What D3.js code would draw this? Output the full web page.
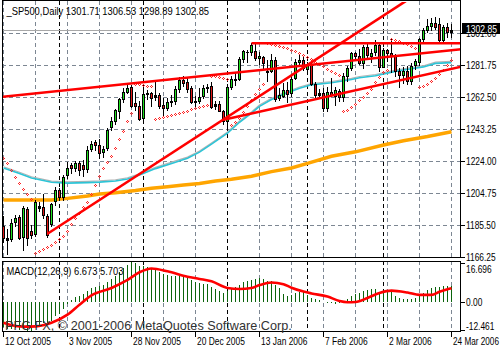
<!DOCTYPE html>
<html><head><meta charset="utf-8">
<script src="https://cdn.jsdelivr.net/npm/d3@7/dist/d3.min.js"></script>
<style>
html,body{margin:0;padding:0;background:#fff;}
svg{display:block;}
text{font-family:"Liberation Sans","Arial",sans-serif;}
</style></head><body>
<svg id="c" width="500" height="350"></svg>
<script>
// ---------------- DATA ----------------
const symbolLabel = "_SP500,Daily";
const lastQuote = ["1301.71","1306.53","1298.89","1302.85"];
const lastPrice = 1302.85;
const dates = [
"2005-10-12","2005-10-13","2005-10-14","2005-10-17","2005-10-18","2005-10-19","2005-10-20","2005-10-21","2005-10-24","2005-10-25","2005-10-26","2005-10-27","2005-10-28","2005-10-31",
"2005-11-01","2005-11-02","2005-11-03","2005-11-04","2005-11-07","2005-11-08","2005-11-09","2005-11-10","2005-11-11","2005-11-14","2005-11-15","2005-11-16","2005-11-17","2005-11-18","2005-11-21","2005-11-22","2005-11-23","2005-11-25","2005-11-28","2005-11-29","2005-11-30",
"2005-12-01","2005-12-02","2005-12-05","2005-12-06","2005-12-07","2005-12-08","2005-12-09","2005-12-12","2005-12-13","2005-12-14","2005-12-15","2005-12-16","2005-12-19","2005-12-20","2005-12-21","2005-12-22","2005-12-23","2005-12-27","2005-12-28","2005-12-29","2005-12-30",
"2006-01-03","2006-01-04","2006-01-05","2006-01-06","2006-01-09","2006-01-10","2006-01-11","2006-01-12","2006-01-13","2006-01-17","2006-01-18","2006-01-19","2006-01-20","2006-01-23","2006-01-24","2006-01-25","2006-01-26","2006-01-27","2006-01-30","2006-01-31",
"2006-02-01","2006-02-02","2006-02-03","2006-02-06","2006-02-07","2006-02-08","2006-02-09","2006-02-10","2006-02-13","2006-02-14","2006-02-15","2006-02-16","2006-02-17","2006-02-21","2006-02-22","2006-02-23","2006-02-24","2006-02-27","2006-02-28",
"2006-03-01","2006-03-02","2006-03-03","2006-03-06","2006-03-07","2006-03-08","2006-03-09","2006-03-10","2006-03-13","2006-03-14","2006-03-15","2006-03-16","2006-03-17","2006-03-20","2006-03-21","2006-03-22","2006-03-23","2006-03-24"];

const open = [1185.0,1177.7,1177.5,1187.5,1190.5,1178.5,1195.5,1182.0,1180.0,1196.2,
1196.5,1191.0,1186.0,1200.0,1207.0,1202.5,1216.0,1221.5,1220.0,1222.8,
1222.0,1219.5,1231.5,1235.5,1234.0,1229.5,1232.0,1244.5,1248.5,1254.5,
1261.5,1265.8,1268.5,1259.0,1257.5,1250.0,1264.5,1265.0,1262.5,1264.0,
1258.0,1256.0,1259.5,1260.5,1267.5,1273.0,1271.5,1268.0,1260.5,1260.0,
1263.0,1268.2,1269.5,1257.0,1258.5,1254.0,1248.5,1268.8,1273.0,1273.5,
1285.5,1290.0,1289.7,1290.5,1286.0,1287.0,1278.5,1278.5,1285.0,1262.0,
1263.5,1267.0,1265.0,1274.0,1283.7,1285.2,1279.5,1282.5,1270.8,1264.0,
1265.0,1256.0,1266.0,1263.5,1266.5,1262.5,1275.5,1280.0,1289.4,1287.5,
1283.0,1292.5,1287.5,1289.5,1294.0,1281.0,1291.0,1289.0,1287.5,1278.3,
1275.9,1278.5,1272.2,1282.0,1283.8,1297.5,1303.0,1305.3,1307.3,1306.7,
1297.2,1305.0,1301.71];
const high = [1191.0,1183.0,1189.0,1192.0,1191.5,1197.0,1196.5,1185.5,1200.5,1199.5,
1204.5,1192.5,1199.0,1208.5,1208.0,1216.0,1223.5,1223.0,1224.0,1224.0,
1225.0,1233.0,1236.0,1237.0,1237.5,1233.0,1244.0,1250.5,1255.5,1262.0,
1268.0,1270.0,1270.0,1266.0,1260.0,1268.5,1267.0,1266.0,1272.0,1265.0,
1262.0,1262.0,1264.0,1269.5,1275.0,1275.5,1274.0,1269.5,1263.0,1268.0,
1270.0,1270.5,1271.5,1260.5,1260.0,1255.0,1270.5,1275.5,1277.0,1286.5,
1291.0,1291.0,1295.0,1294.5,1290.0,1287.5,1284.8,1288.4,1286.5,1268.0,
1271.0,1271.5,1276.0,1285.5,1288.7,1287.5,1284.0,1284.0,1272.0,1267.5,
1268.0,1268.5,1274.0,1268.5,1267.5,1277.0,1281.5,1290.0,1290.0,1291.5,
1294.0,1295.0,1291.5,1297.0,1295.0,1292.0,1291.5,1297.5,1288.5,1280.0,
1280.5,1281.5,1283.0,1285.5,1298.0,1304.0,1309.5,1310.5,1310.8,1310.0,
1306.0,1307.0,1306.53];
const low = [1175.5,1168.5,1176.0,1185.0,1177.5,1170.6,1173.5,1178.0,1179.0,1194.0,
1190.0,1178.5,1185.0,1198.0,1201.0,1201.0,1214.0,1217.0,1218.0,1216.0,
1215.0,1217.5,1230.0,1231.0,1226.0,1226.5,1231.0,1243.0,1246.5,1250.0,
1259.5,1265.0,1256.5,1255.0,1249.0,1249.5,1261.5,1257.0,1261.0,1256.0,
1251.0,1255.0,1257.5,1258.5,1266.0,1269.5,1266.0,1259.0,1257.0,1259.0,
1262.0,1265.5,1256.0,1255.5,1254.0,1246.5,1245.5,1267.5,1270.0,1273.0,
1284.0,1284.0,1288.0,1285.0,1282.8,1280.0,1272.4,1277.5,1260.5,1261.0,
1262.8,1259.5,1263.0,1273.5,1282.0,1279.0,1276.5,1270.0,1261.5,1262.0,
1254.5,1254.0,1263.0,1258.0,1260.5,1260.5,1272.5,1279.0,1285.0,1282.5,
1280.0,1285.5,1284.0,1288.0,1278.5,1280.5,1284.5,1277.5,1275.5,1268.5,
1271.0,1270.5,1270.5,1279.5,1282.0,1296.0,1302.0,1303.0,1303.5,1296.0,
1296.0,1298.5,1298.89];
const close = [1177.7,1176.8,1186.6,1190.1,1178.1,1195.8,1177.8,1179.6,1199.4,1197.0,
1191.4,1179.5,1198.4,1207.0,1202.8,1214.8,1220.0,1220.1,1222.8,1218.6,
1219.5,1231.0,1234.7,1233.8,1229.0,1231.2,1242.8,1248.3,1254.9,1261.2,
1265.6,1268.3,1257.5,1257.5,1249.5,1264.7,1265.1,1262.1,1263.7,1257.4,
1255.8,1259.4,1260.4,1267.4,1272.7,1270.9,1267.3,1259.9,1259.6,1262.8,
1268.1,1268.7,1256.5,1258.2,1254.4,1248.3,1268.8,1273.5,1273.5,1285.5,
1290.2,1289.7,1294.2,1286.1,1287.6,1282.9,1277.9,1285.0,1261.5,1263.8,
1266.9,1264.7,1273.8,1283.7,1285.2,1280.1,1282.5,1270.8,1264.0,1265.0,
1256.0,1266.0,1263.8,1267.0,1262.9,1275.5,1280.0,1289.4,1287.2,1283.0,
1292.7,1287.8,1289.4,1294.1,1280.7,1291.2,1289.1,1287.2,1278.3,1275.9,
1278.5,1272.2,1281.4,1284.1,1297.5,1303.0,1305.3,1307.3,1305.1,1297.2,
1305.0,1301.7,1302.85];

// Parabolic SAR dots (one per bar)
const sar = [1225.8,1222.8,1218.8,1214.4,1210.8,1207.3,1204.5,1201.5,
1168.6,1170.2,1171.2,1172.2,1173.6,1175.4,1177.2,1179.3,1182.3,1186.0,1189.8,1193.2,1196.3,1199.5,1204.3,1210.0,1215.2,1219.8,1223.8,1227.2,1231.8,1237.2,1242.4,1248.2,1253.2,
1270.5,1270.3,1270.0,1269.6,1269.2,
1249.6,1250.0,1250.5,1251.0,1251.6,1252.2,1252.9,1253.7,1254.5,1255.3,1256.0,1256.6,1257.2,1257.8,
1275.5,1275.1,1274.6,1274.0,1273.4,
1246.0,1247.5,1250.0,1253.5,1257.2,1260.8,1264.3,1267.5,1270.3,
1295.0,1294.6,1294.1,1293.5,1292.8,1292.0,1291.1,1290.1,1289.0,1287.9,1286.7,1285.4,1284.0,1282.6,1281.2,1279.8,1278.5,1277.3,1276.2,
1254.0,1255.0,1256.5,1258.5,1260.6,1262.8,1265.2,1267.6,1271.5,1274.5,1278.0,1279.0,
1297.5,1297.0,1296.2,1295.3,1294.3,1293.2,1292.1,
1268.5,1269.5,1270.8,1272.5,1274.3,1276.4,1278.8,1281.8,1285.2];

// moving averages read as [bar index, price]
const maCyan = [[0,1220.0],[4,1216.7],[7,1214.0],[12,1211.4],[16,1210.9],[21,1211.2],[24,1211.5],[28,1212.2],[31,1213.4],[34,1215.8],[38,1219.6],[43,1223.5],[46,1225.8],[49,1229.5],[52,1234.3],[56,1240.9],[59,1247.5],[62,1253.0],[64,1257.1],[67,1261.2],[70,1264.4],[74,1268.0],[77,1270.0],[82,1271.3],[87,1273.2],[89,1274.3],[93,1275.5],[98,1278.1],[102,1279.7],[105,1280.8],[108,1282.9],[112,1283.4]];
const maOrange = [[0,1200.7],[12,1200.7],[16,1201.7],[21,1203.1],[24,1204.3],[28,1205.1],[33,1206.4],[37,1207.8],[41,1208.7],[45,1209.7],[49,1210.7],[53,1212.2],[57,1213.2],[62,1215.0],[67,1217.8],[72,1220.0],[76,1222.8],[82,1227.0],[88,1229.7],[95,1233.8],[100,1236.4],[106,1238.9],[112,1241.8]];

// trendlines: two anchor points [bar, price]
const trendChannelTop = [[0,1262.9],[112,1290.8]];
const trendHorizontal = [[62,1295.0],[112,1295.0]];
const trendSteep = [[11,1180.4],[100,1319.5]];
const trendSupport = [[55,1249.0],[112,1279.6]];

// price axis
const priceLevels = [1166.25,1185.50,1204.75,1224.00,1243.25,1262.50,1281.75,1301.00];
const priceLabels = ["1166.25","1185.50","1204.75","1224.00","1243.25","1262.50","1281.75","1301.00"];

// MACD(12,26,9)
const macdMain = [-10.5,-11.5,-11.6,-11.2,-12.0,-11.0,-12.46,-12.2,-10.6,-9.6,
-9.1,-9.8,-8.0,-6.1,-5.0,-3.0,-1.0,0.8,2.0,2.6,
3.2,4.5,5.6,6.4,6.7,7.1,8.2,9.4,10.8,12.4,
14.1,15.5,16.696,16.1,15.2,15.0,14.6,14.0,13.4,12.6,
11.8,11.2,10.9,11.0,11.2,10.8,10.1,9.3,8.5,7.9,
7.6,7.3,6.3,5.5,4.7,3.9,4.6,5.3,6.0,7.0,
8.2,8.8,9.2,9.6,9.8,9.4,8.8,8.6,7.0,5.6,
3.4,2.5,2.7,3.8,4.3,4.0,3.0,1.8,1.1,0.6,
-0.1,-0.4,-0.7,-0.9,-0.6,0.2,1.0,2.3,3.1,3.8,
4.5,4.9,5.2,5.5,4.2,3.6,4.2,4.4,2.6,1.4,
1.1,1.0,1.3,1.7,2.6,3.9,4.8,5.9,6.3,6.4,
6.6,6.7,6.673];
const macdSignal = [[0,-8.8],[2,-9.8],[5,-10.4],[8,-10.3],[12,-8.8],[16,-5.4],[19,-1.2],[22,2.7],[27,5.8],[31,9.2],[34,12.4],[37,14.0],[41,12.8],[46,10.5],[49,9.6],[52,8.6],[56,5.8],[59,5.4],[62,5.8],[64,7.0],[67,8.1],[70,7.4],[72,5.9],[75,4.3],[77,3.5],[81,2.2],[84,0.3],[86,-0.2],[88,-0.1],[91,1.6],[94,3.7],[97,4.7],[101,3.9],[104,2.9],[107,2.9],[109,4.2],[111,5.3],[112,5.703]];
const macdLevels = [16.696, 0, -12.461];
const macdLabels = ["16.696","0.00","-12.461"];
const macdTitle = "MACD(12,26,9) 6.673 5.703";

// time axis
const dateTickIdx = [0,16,32,48,64,80,96,112];
const dateTickLabels = ["12 Oct 2005","3 Nov 2005","28 Nov 2005","20 Dec 2005","13 Jan 2006","7 Feb 2006","2 Mar 2006","24 Mar 2006"];
const copyright = "PFG FX, \u00A9 2001-2006 MetaQuotes Software Corp.";

// ---------------- DRAW ----------------
const svg = d3.select("#c");
const P = {l:2, r:461, t:1, b:257};
const M = {t:261, b:331};
const x = d3.scaleLinear().domain([0,112]).range([3.5,451.5]);
const y = d3.scaleLinear().domain([1166.25,1320.45]).range([257.3,1]);
const ym = d3.scaleLinear().domain([-12.461,16.696]).range([331.5,262]);
const px = v => Math.round(v)+0.5;

function label(g, str, tx, ty, size, sx, fill){
  return g.append("text").attr("font-size",size).attr("fill",fill||"#000")
    .attr("transform",`translate(${tx},${ty}) scale(${sx},1)`).text(str);
}
function fit(t, w){
  const n=t.node().getComputedTextLength();
  t.attr("transform", t.attr("transform").replace(/scale\([^)]*\)/,`scale(${w/n},1)`));
  return t;
}

svg.append("rect").attr("width",500).attr("height",350).attr("fill","#fff");
const defs = svg.append("defs");
defs.append("clipPath").attr("id","cm").append("rect").attr("x",P.l+1).attr("y",P.t+1).attr("width",P.r-P.l-1).attr("height",P.b-P.t-1);
defs.append("clipPath").attr("id","cd").append("rect").attr("x",P.l+1).attr("y",M.t+1).attr("width",P.r-P.l-1).attr("height",M.b-M.t-1);

const gridCol = "#7d8793";
svg.append("g").selectAll("line").data(priceLevels).join("line")
  .attr("x1",P.l).attr("x2",P.r).attr("y1",d=>px(y(d))).attr("y2",d=>px(y(d)))
  .attr("stroke",gridCol).attr("stroke-dasharray","4,3").attr("shape-rendering","crispEdges");

const monthStarts = dates.map((d,i)=>i).filter(i=>i>0 && dates[i].slice(5,7)!==dates[i-1].slice(5,7));
const gridIdx = d3.range(0,113,8).filter(i=>!monthStarts.includes(i));
[[P.t,P.b],[M.t,M.b]].forEach(([a,b])=>{
  svg.append("g").selectAll("line").data(gridIdx).join("line")
    .attr("x1",i=>px(x(i)-0.5)).attr("x2",i=>px(x(i)-0.5)).attr("y1",a).attr("y2",b)
    .attr("stroke",gridCol).attr("stroke-dasharray","4,3").attr("shape-rendering","crispEdges");
  svg.append("g").selectAll("line").data(monthStarts).join("line")
    .attr("x1",i=>px(x(i)-0.5)).attr("x2",i=>px(x(i)-0.5)).attr("y1",a).attr("y2",b)
    .attr("stroke","#000").attr("stroke-dasharray","4,3").attr("shape-rendering","crispEdges");
});

const main = svg.append("g").attr("clip-path","url(#cm)");
main.append("line").attr("x1",P.l).attr("x2",P.r).attr("y1",px(y(lastPrice))).attr("y2",px(y(lastPrice)))
  .attr("stroke","#a8a8a8").attr("shape-rendering","crispEdges");

const ln = d3.line().x(d=>x(d[0])).y(d=>y(d[1]));
main.append("path").attr("d",ln(maOrange)).attr("fill","none").attr("stroke","#ffa500").attr("stroke-width",3.5);
main.append("path").attr("d",ln(maCyan)).attr("fill","none").attr("stroke","#b4b4b4").attr("stroke-width",1.2).attr("transform","translate(0,-1.2)");
main.append("path").attr("d",ln(maCyan)).attr("fill","none").attr("stroke","#2cc4d6").attr("stroke-width",1.6);

// candles
const bars = d3.range(open.length);
const cg = main.append("g").attr("shape-rendering","crispEdges");
cg.selectAll(".w").data(bars).join("line")
  .attr("x1",i=>px(x(i)-0.5)).attr("x2",i=>px(x(i)-0.5))
  .attr("y1",i=>Math.round(y(high[i]))).attr("y2",i=>Math.round(y(low[i]))+1)
  .attr("stroke","#000");
cg.selectAll(".b").data(bars).join("rect")
  .attr("x",i=>Math.round(x(i)-0.5)-1)
  .attr("y",i=>Math.round(y(Math.max(open[i],close[i]))))
  .attr("width",3)
  .attr("height",i=>Math.max(1,Math.round(y(Math.min(open[i],close[i])))-Math.round(y(Math.max(open[i],close[i])))+1))
  .attr("fill","#000");
cg.selectAll(".f").data(bars.filter(i=>Math.abs(y(open[i])-y(close[i]))>=2)).join("rect")
  .attr("x",i=>Math.round(x(i)-0.5))
  .attr("y",i=>Math.round(y(Math.max(open[i],close[i])))+1)
  .attr("width",1)
  .attr("height",i=>Math.round(y(Math.min(open[i],close[i])))-Math.round(y(Math.max(open[i],close[i])))-1)
  .attr("fill",i=>close[i]>=open[i]?"#1fe01f":"#e01818");

// SAR
const sg = main.append("g").attr("fill","#ff2020").attr("shape-rendering","crispEdges");
bars.forEach(i=>{
  const cx=Math.round(x(i)-0.5), cy=Math.round(y(sar[i]));
  [[0,-1],[-1,0],[1,0],[0,1]].forEach(([dx,dy])=>sg.append("rect").attr("x",cx+dx).attr("y",cy+dy).attr("width",1).attr("height",1));
});

// trendlines
function ext(pts, both){
  const [a,b]=pts; const s=(b[1]-a[1])/(b[0]-a[0]);
  const i0 = both ? -2 : a[0], i1 = 116;
  return [[i0,a[1]+s*(i0-a[0])],[i1,a[1]+s*(i1-a[0])]];
}
[[trendChannelTop,true],[trendHorizontal,false],[trendSteep,false],[trendSupport,false]].forEach(([t,b])=>{
  main.append("path").attr("d",ln(ext(t,b))).attr("fill","none").attr("stroke","#ff0000").attr("stroke-width",2.6);
});

// MACD
const mg = svg.append("g").attr("clip-path","url(#cd)");
mg.append("g").attr("shape-rendering","crispEdges").selectAll("line").data(bars).join("line")
  .attr("x1",i=>px(x(i)-0.5)).attr("x2",i=>px(x(i)-0.5))
  .attr("y1",Math.round(ym(0))).attr("y2",i=>Math.round(ym(macdMain[i])))
  .attr("stroke","#0b640b");
const lm = d3.line().x(d=>x(d[0])).y(d=>ym(d[1])).curve(d3.curveMonotoneX);
mg.append("path").attr("d",lm(macdSignal)).attr("fill","none").attr("stroke","#ff0000").attr("stroke-width",2.6);

// frames
svg.append("rect").attr("x",P.l+0.5).attr("y",P.t-0.5).attr("width",P.r-P.l-1).attr("height",P.b-P.t+1).attr("fill","none").attr("stroke","#000");
svg.append("rect").attr("x",P.l+0.5).attr("y",M.t+0.5).attr("width",P.r-P.l-1).attr("height",M.b-M.t).attr("fill","none").attr("stroke","#000");

// right axis
const AX = svg.append("g");
const SX = 0.84;
priceLevels.forEach((v,k)=>{
  const yy = Math.round(y(v));
  AX.append("line").attr("x1",P.r).attr("x2",P.r+4).attr("y1",yy+0.5).attr("y2",yy+0.5).attr("stroke","#000").attr("shape-rendering","crispEdges");
  label(AX, priceLabels[k], 466, Math.min(yy+3.5,260.5), "10px", SX);
});
macdLevels.forEach((v,k)=>{
  const yy = Math.round(ym(v));
  const by = k===0 ? 272.5 : (k===2 ? 329.5 : yy+3.5);
  const ty = Math.min(Math.max(yy,263),330)+0.5;
  AX.append("line").attr("x1",P.r).attr("x2",P.r+4).attr("y1",ty).attr("y2",ty).attr("stroke","#000").attr("shape-rendering","crispEdges");
  label(AX, macdLabels[k], 466, by, "10px", SX);
});
const ly = Math.round(y(lastPrice));
svg.append("rect").attr("x",462).attr("y",ly-7).attr("width",38).attr("height",11).attr("fill","#000");
label(svg, lastQuote[3], 466, ly+2.5, "10px", 0.86, "#fff");

// date axis: common squeeze so "12 Oct 2005" is ~46px, each label kept inside the picture
const probe = label(svg, dateTickLabels[0], -100, -100, "10.5px", 1);
const dsx = 46 / probe.node().getComputedTextLength();
probe.remove();
dateTickIdx.forEach((i,k)=>{
  const xx = Math.round(x(i)-0.5)+0.5;
  svg.append("line").attr("x1",xx).attr("x2",xx).attr("y1",M.b+1).attr("y2",M.b+6).attr("stroke","#000").attr("shape-rendering","crispEdges");
  const t = label(svg, dateTickLabels[k], xx+1.5, 345, "10.5px", dsx);
  const w = t.node().getComputedTextLength()*dsx, room = 499 - (xx+1.5);
  if (w > room) fit(t, room);
});

fit(label(svg, symbolLabel+"  "+lastQuote.join(" "), 6.5, 15, "10.5px", 1), 203);
fit(label(svg, macdTitle, 6.5, 274.5, "10.5px", 1), 117);
fit(label(svg, copyright, 5, 330, "12.5px", 1, "#333"), 287);
</script>
</body></html>
